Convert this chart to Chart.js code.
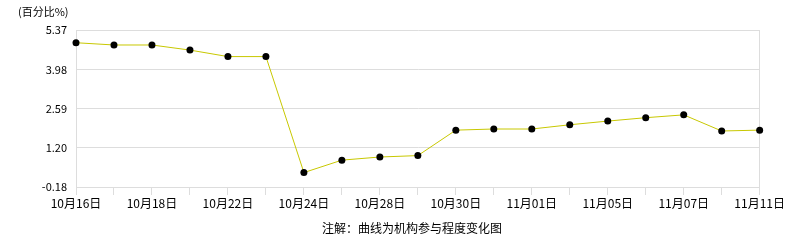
<!DOCTYPE html>
<html>
<head>
<meta charset="utf-8">
<script src="https://cdn.jsdelivr.net/npm/chart.js@4"></script>
<style>
  html, body { margin: 0; padding: 0; background: #fff; }
  #wrap { width: 786px; height: 240px; }
</style>
</head>
<body>
<div id="wrap"><canvas id="c" width="786" height="240"></canvas></div>
<script>
// --- dati ---
const dates = ['10月16日', '10月17日', '10月18日', '10月21日', '10月22日', '10月23日', '10月24日',
  '10月25日', '10月28日', '10月29日', '10月30日', '10月31日', '11月01日', '11月04日',
  '11月05日', '11月06日', '11月07日', '11月08日', '11月11日'];
const values = [4.92, 4.84, 4.84, 4.66, 4.43, 4.43, 0.33, 0.77, 0.88, 0.93, 1.83,
  1.87, 1.87, 2.02, 2.15, 2.27, 2.37, 1.80, 1.83];
const yTicks = [-0.18, 1.20, 2.59, 3.98, 5.37];
const unitLabel = '(百分比%)';
const noteText = '注解：曲线为机构参与程度变化图';

const FONT = '"Noto Sans CJK SC", "DejaVu Sans", sans-serif';

// testi extra (unità e nota)
const textPlugin = {
  id: 'texts',
  afterDraw(chart) {
    const ctx = chart.ctx;
    ctx.save();
    ctx.fillStyle = '#000';
    ctx.font = '11px ' + FONT;
    ctx.textBaseline = 'middle';
    ctx.textAlign = 'left';
    ctx.fillText(unitLabel, 18, 12);
    ctx.font = '12px ' + FONT;
    ctx.textAlign = 'center';
    ctx.fillText(noteText, 412, 228);
    ctx.restore();
  }
};

const last = dates.length - 1;

new Chart(document.getElementById('c'), {
  type: 'line',
  data: {
    labels: dates,
    datasets: [{
      data: values,
      borderColor: '#c8c800',
      borderWidth: 1,
      tension: 0,
      pointRadius: 3.5,
      pointBackgroundColor: '#000',
      pointBorderColor: '#000',
      pointBorderWidth: 0
    }]
  },
  options: {
    responsive: false,
    animation: false,
    layout: { padding: { top: 30, right: 24, left: 0, bottom: 0 } },
    plugins: { legend: { display: false }, tooltip: { enabled: false } },
    scales: {
      x: {
        offset: false,
        border: { color: '#ddd' },
        grid: {
          color: (c) => (c.index === 0 || c.index === last) ? '#ddd' : 'rgba(0,0,0,0)',
          tickColor: '#ddd',
          tickLength: 8
        },
        ticks: {
          autoSkip: false,
          maxRotation: 0,
          padding: 1,
          color: '#000',
          font: { family: FONT, size: 12 },
          callback: (v, i) => i % 2 === 0 ? dates[i] : ''
        },
        afterFit: (s) => { s.height = 53; }
      },
      y: {
        min: yTicks[0],
        max: yTicks[yTicks.length - 1],
        border: { color: '#ddd' },
        grid: { color: '#ddd', drawTicks: false },
        ticks: {
          padding: 9,
          color: '#000',
          font: { family: FONT, size: 11 },
          callback: (v) => Number(v).toFixed(2)
        },
        afterBuildTicks: (s) => { s.ticks = yTicks.map(v => ({ value: v })); },
        afterFit: (s) => { s.width = 76; }
      }
    }
  },
  plugins: [textPlugin]
});
</script>
</body>
</html>
